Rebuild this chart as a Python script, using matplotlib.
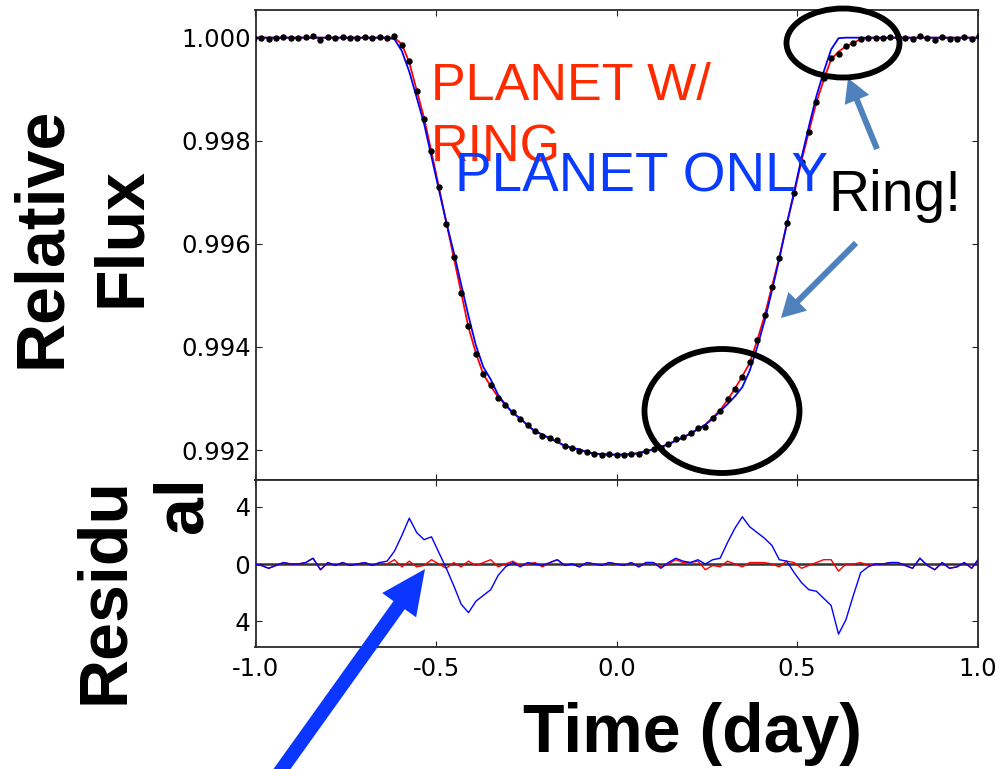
import matplotlib
matplotlib.use('Agg')
import matplotlib.pyplot as plt
import numpy as np
from matplotlib.patches import Ellipse, FancyArrowPatch
from matplotlib.transforms import Bbox, TransformedBbox

W, H = 997, 769

# time grid of the light curve (days from mid-transit)
time = np.arange(-49, 50) * 0.0205

# best-fit model with ring
ring_model = [
    1.0, 1.0, 1.0, 1.0, 1.0, 1.0, 1.0, 1.0, 1.0, 1.0,
    1.0, 1.0, 1.0, 1.0, 1.0, 1.0, 1.0, 1.0, 1.0, 1.0,
    0.99987, 0.99952, 0.99898, 0.99844, 0.99778, 0.99710, 0.99642, 0.99574, 0.99506, 0.99438,
    0.99388, 0.99347, 0.99324, 0.99303, 0.99287, 0.99272, 0.99261, 0.99248, 0.99236, 0.99230,
    0.99222, 0.99216, 0.99208, 0.99204, 0.99201, 0.99196, 0.99193, 0.99192, 0.99191, 0.99191,
    0.99191, 0.99192, 0.99194, 0.99198, 0.99201, 0.99206, 0.99211, 0.99219, 0.99225, 0.99232,
    0.99241, 0.99249, 0.99263, 0.99277, 0.99297, 0.99319, 0.99343, 0.99369, 0.99412, 0.99460,
    0.99517, 0.99574, 0.99638, 0.99697, 0.99761, 0.99818, 0.99874, 0.99918, 0.99958, 0.99973,
    0.99983, 0.99990, 0.99997, 1.0, 1.0, 1.0, 1.0, 1.0, 1.0, 1.0,
    1.0, 1.0, 1.0, 1.0, 1.0, 1.0, 1.0, 1.0, 1.0,
]

# best-fit model, planet only
planet_model = [
    1.0, 1.0, 1.0, 1.0, 1.0, 1.0, 1.0, 1.0, 1.0, 1.0,
    1.0, 1.0, 1.0, 1.0, 1.0, 1.0, 1.0, 1.0, 1.0, 0.99997,
    0.99974, 0.99934, 0.99884, 0.99833, 0.99769, 0.99705, 0.99642, 0.99584, 0.99522, 0.99460,
    0.99403, 0.99361, 0.99337, 0.99307, 0.99288, 0.99272, 0.99261, 0.99248, 0.99236, 0.99230,
    0.99222, 0.99216, 0.99208, 0.99204, 0.99201, 0.99196, 0.99193, 0.99192, 0.99191, 0.99191,
    0.99191, 0.99192, 0.99194, 0.99198, 0.99201, 0.99206, 0.99211, 0.99218, 0.99224, 0.99232,
    0.99240, 0.99249, 0.99261, 0.99275, 0.99289, 0.99304, 0.99322, 0.99354, 0.99399, 0.99450,
    0.99509, 0.99571, 0.99638, 0.99701, 0.99767, 0.99828, 0.99886, 0.99934, 0.99977, 0.99999,
    1.0, 1.0, 1.0, 1.0, 1.0, 1.0, 1.0, 1.0, 1.0, 1.0,
    1.0, 1.0, 1.0, 1.0, 1.0, 1.0, 1.0, 1.0, 1.0,
]

# residuals (data - model)
ring_resid = [
    0.0, -0.00001, -0.00003, -0.00001, 0.00001, 0.0, 0.0, 0.00001, 0.00004, -0.00004,
    0.00001, -0.00001, 0.00001, -0.00001, 0.0, 0.00001, -0.00001, 0.00001, 0.0, 0.00003,
    -0.00002, 0.00002, -0.00002, -0.00001, 0.00003, 0.0, -0.00003, 0.00001, -0.00002, 0.00002,
    -0.00001, 0.00001, 0.00003, -0.00002, 0.0, 0.00002, -0.00001, 0.0, 0.00001, -0.00002,
    0.00001, 0.00003, -0.00001, 0.0, -0.00002, 0.00001, 0.0, -0.00001, 0.00001, 0.0,
    -0.00001, 0.00001, -0.00002, 0.00001, 0.00001, -0.00002, 0.0, 0.00003, 0.00001, 0.00001,
    0.00002, -0.00004, -0.00001, -0.00002, 0.00002, 0.0, -0.00002, 0.00001, 0.00001, 0.00001,
    0.0, -0.00002, 0.00002, 0.00001, -0.00003, -0.00001, 0.00001, 0.00003, 0.00003, -0.00005,
    0.0, 0.0, 0.00001, -0.00001, 0.0, 0.0, 0.00001, 0.00001, -0.00001, -0.00003,
    0.00004, -0.00001, -0.00004, 0.00001, -0.00003, -0.00002, 0.00001, -0.00003, 0.00004,
]

planet_resid = [
    0.0, -0.00001, -0.00003, -0.00001, 0.00001, 0.0, 0.0, 0.00001, 0.00004, -0.00004,
    0.00001, -0.00001, 0.00001, -0.00001, 0.0, 0.00001, -0.00001, 0.00001, 0.00002, 0.00009,
    0.00020, 0.00032, 0.00022, 0.00017, 0.00019, 0.00008, -0.00003, -0.00015, -0.00028, -0.00034,
    -0.00026, -0.00022, -0.00018, -0.00008, -0.00002, 0.00001, -0.00002, 0.00001, 0.0, -0.00001,
    0.00001, 0.00003, -0.00001, 0.0, -0.00002, 0.00001, 0.0, -0.00001, 0.00001, 0.0,
    -0.00001, 0.00001, -0.00002, 0.00001, 0.00001, -0.00003, 0.00001, 0.00004, 0.00002, 0.00001,
    0.00003, 0.0, 0.00003, 0.00004, 0.00015, 0.00025, 0.00033, 0.00026, 0.00022, 0.00018,
    0.00013, 0.00003, 0.00002, -0.00006, -0.00013, -0.00018, -0.00019, -0.00024, -0.00029, -0.00049,
    -0.00039, -0.00022, -0.00006, -0.00002, 0.0, 0.0, 0.00001, 0.00001, -0.00001, -0.00003,
    0.00004, -0.00001, -0.00004, 0.00001, -0.00003, -0.00002, 0.00001, -0.00003, 0.00004,
]

flux = np.array(ring_model) + np.array(ring_resid)

xticks = [-1.0, -0.5, 0.0, 0.5, 1.0]
flux_ticks = [0.992, 0.994, 0.996, 0.998, 1.000]
resid_ticks = [-0.0004, 0.0, 0.0004]
resid_ticklabels = ['-0.0004', '0.0', '0.0004']

plt.rcParams['axes.unicode_minus'] = False
plt.rcParams['font.family'] = 'DejaVu Sans'
LABEL_FONT = 'Liberation Sans'


def fxy(x, y):
    """pixel position (origin top-left) -> figure fraction"""
    return x / W, 1 - y / H


def style(ax):
    ax.tick_params(direction='in', top=True, right=True, length=4, width=0.8,
                   labelsize=17.5, color='#222222')
    for s in ax.spines.values():
        s.set_linewidth(1.3)
        s.set_color('#2a2a2a')


fig = plt.figure(figsize=(W / 100, H / 100), dpi=100)
x0, x1 = 255.5, 977.5
ax1 = fig.add_axes([x0 / W, 1 - 480 / H, (x1 - x0) / W, 470 / H])
ax2 = fig.add_axes([x0 / W, 1 - 647 / H, (x1 - x0) / W, 167 / H], sharex=ax1)

# light curve
ax1.plot(time, ring_model, color='r', lw=1.3, zorder=2)
ax1.plot(time, planet_model, color='b', lw=1.3, zorder=3)
ax1.plot(time, flux, 'o', color='k', ms=3.6, zorder=4)
ax1.set_xlim(-1, 1)
ax1.set_ylim(0.991418, 1.000537)
ax1.set_yticks(flux_ticks)
ax1.set_yticklabels([f'{v:.3f}' for v in flux_ticks])
style(ax1)
ax1.tick_params(labelbottom=False, pad=3)

# residuals
ax2.axhline(0, color='#333333', lw=1.8, zorder=1)
ax2.plot(time, ring_resid, color='r', lw=1.0, zorder=2)
ax2.plot(time, planet_resid, color='b', lw=1.0, zorder=3)
ax2.set_ylim(-0.00058, 0.000587)
ax2.set_yticks(resid_ticks)
ax2.set_yticklabels(resid_ticklabels)
ax2.set_xticks(xticks)
ax2.set_xticklabels([f'{v:.1f}' for v in xticks])
style(ax2)
ax2.tick_params(axis='y', pad=3)
ax2.tick_params(axis='x', pad=7)
# the left part of the residual tick labels is hidden
clip = TransformedBbox(Bbox([[234 / W, 0], [1, 1]]), fig.transFigure)
for lbl in ax2.get_yticklabels():
    lbl.set_clip_box(clip)
    lbl.set_clip_on(True)

# axis labels
fig.text(*fxy(82, 237), 'Relative\nFlux', rotation=90, ha='center', va='center',
         family=LABEL_FONT, fontweight='bold', fontsize=49, multialignment='center',
         linespacing=1.33)
fig.text(*fxy(144, 590), 'Residu\nal', rotation=90, ha='center', va='center',
         family=LABEL_FONT, fontweight='bold', fontsize=49, multialignment='right',
         linespacing=1.3)
fig.text(*fxy(692, 752), 'Time (day)', ha='center', va='baseline',
         family=LABEL_FONT, fontweight='bold', fontsize=49)

# annotations
fig.text(*fxy(431, 62), 'PLANET W/\nRING', color='#ff2a00', ha='left', va='top',
         family=LABEL_FONT, fontsize=37.5, linespacing=1.32)
fig.text(*fxy(455, 152), 'PLANET ONLY', color='#0a3cff', ha='left', va='top',
         family=LABEL_FONT, fontsize=39.5)
fig.text(*fxy(828, 169), 'Ring!', color='k', ha='left', va='top',
         family=LABEL_FONT, fontsize=41)


def arrow(p0, p1, color, tail, head_w, head_l):
    a = FancyArrowPatch(fxy(*p0), fxy(*p1), transform=fig.transFigure,
                        arrowstyle=f'simple,head_length={head_l},head_width={head_w},'
                                   f'tail_width={tail}',
                        color=color, lw=0, shrinkA=0, shrinkB=0)
    fig.add_artist(a)


arrow((877, 149), (848, 78), '#4f81bd', 4.3, 19, 17)
arrow((856, 243), (781, 318), '#4f81bd', 4.3, 19, 17)
arrow((267, 790), (425, 569), '#0b36ff', 10, 30, 32)

for cx, cy, w, h in [(843, 43, 113, 69), (722, 411, 155, 124)]:
    fig.add_artist(Ellipse(fxy(cx, cy), w / W, h / H, transform=fig.transFigure,
                           fill=False, ec='k', lw=4.2))

fig.savefig('out.png', dpi=100, facecolor='white')
